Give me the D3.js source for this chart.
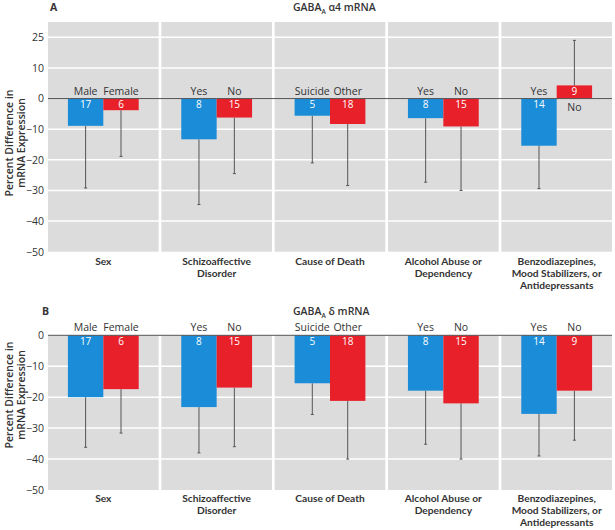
<!DOCTYPE html>
<html><head><meta charset="utf-8">
<script src="https://cdn.jsdelivr.net/npm/d3@7"></script>
<style>
body{margin:0;background:#fff;}
svg text{font-family:"Open Sans","Noto Sans",sans-serif;fill:#333;}
</style></head>
<body><svg id="c" width="615" height="530"></svg>
<script>
const categories = [["Sex"],["Schizoaffective","Disorder"],["Cause of Death"],["Alcohol Abuse or","Dependency"],["Benzodiazepines,","Mood Stabilizers, or","Antidepressants"]];
const groupLabels = [["Male","Female"],["Yes","No"],["Suicide","Other"],["Yes","No"],["Yes","No"]];
const counts = [[17,6],[8,15],[5,18],[8,15],[14,9]];
// Panel A: GABA_A alpha4 mRNA
const valuesA = [[-8.9,-3.8],[-13.3,-6.2],[-5.6,-8.3],[-6.4,-9.1],[-15.4,4.3]];
const errEndA = [[-29.2,-18.9],[-34.6,-24.5],[-21.0,-28.4],[-27.3,-30.0],[-29.4,19.0]];
// Panel B: GABA_A delta mRNA
const valuesB = [[-20.0,-17.4],[-23.2,-16.9],[-15.5,-21.2],[-17.9,-22.0],[-25.4,-17.9]];
const errEndB = [[-36.2,-31.6],[-38.0,-36.0],[-25.6,-40.0],[-35.2,-40.0],[-39.0,-33.9]];
const tickValuesA = [20,10,0,-10,-20,-30,-40,-50];
const tickLabelsA = ["25","10","0","\u221210","\u221220","\u221230","\u221240","\u221250"];
const tickValuesB = [0,-10,-20,-30,-40,-50];
const tickLabelsB = ["0","\u221210","\u221220","\u221230","\u221240","\u221250"];
const colors = ["#1a8cd8","#e8202a"];

const svg = d3.select("#c");
const x = d3.scaleBand().domain(d3.range(categories.length)).range([48,612]).paddingInner(0.024);
const bw = x.bandwidth();
const sub = d3.scaleBand().domain([0,1]).range([bw/2-bw*0.32, bw/2+bw*0.32]);

function panel(opts){
  const {values, errEnd, domain, range, tickValues, tickLabels, letter, letterX, titleY, gene, catY, yTitleY} = opts;
  const y = d3.scaleLinear().domain(domain).range(range);
  const g = svg.append("g");
  g.selectAll("rect.bg").data(categories).join("rect")
    .attr("x",(d,i)=>x(i)).attr("y",y(domain[1])).attr("width",bw)
    .attr("height",y(domain[0])-y(domain[1])).attr("fill","#dcdcdd");
  tickValues.filter(v=>v!==0 && v!==domain[0]).forEach(v=>{
    g.append("line").attr("x1",48).attr("x2",612).attr("y1",y(v)).attr("y2",y(v))
      .attr("stroke","#fff").attr("stroke-width",1.5);
  });
  const ax = d3.axisLeft(y).tickValues(tickValues).tickFormat((d,i)=>tickLabels[i]).tickSize(0).tickPadding(4);
  const axg = g.append("g").attr("transform","translate(48,0)").call(ax);
  axg.select(".domain").remove();
  axg.selectAll("text").attr("font-size",10.5).attr("fill","#333").style("font-family",'"Open Sans",sans-serif');
  categories.forEach((c,i)=>{
    const cg = g.append("g").attr("transform",`translate(${x(i)},0)`);
    [0,1].forEach(j=>{
      const v = values[i][j];
      const bx = sub(j), w = sub.bandwidth();
      const e = errEnd[i][j];
      cg.append("line").attr("x1",bx+w/2).attr("x2",bx+w/2).attr("y1",y(v)).attr("y2",y(e))
        .attr("stroke","#555").attr("stroke-width",1);
      cg.append("line").attr("x1",bx+w/2-1.5).attr("x2",bx+w/2+1.5).attr("y1",y(e)).attr("y2",y(e))
        .attr("stroke","#555").attr("stroke-width",1);
      cg.append("rect").attr("x",bx).attr("y",y(Math.max(0,v))).attr("width",w)
        .attr("height",Math.abs(y(v)-y(0))).attr("fill",colors[j]);
      const cy = v<0 ? y(0)+9.5 : (y(v)+y(0))/2+3.5;
      cg.append("text").attr("x",bx+w/2).attr("y",cy).attr("text-anchor","middle")
        .attr("font-size",10).style("fill","#fff").text(counts[i][j]);
      const ly = v<0 ? y(0)-4 : y(0)+12.5;
      cg.append("text").attr("x",bx+w/2).attr("y",ly).attr("text-anchor","middle")
        .attr("font-size",10.5).text(groupLabels[i][j]);
    });
    const t = cg.append("text").attr("x",bw/2).attr("y",catY).attr("text-anchor","middle")
      .attr("font-size",10.2).attr("font-weight",700).style("font-family","Lato, sans-serif");
    c.forEach((line,k)=>t.append("tspan").attr("x",bw/2).attr("dy",k===0?0:12.2).text(line));
  });
  g.append("line").attr("x1",48).attr("x2",612).attr("y1",y(0)).attr("y2",y(0))
    .attr("stroke","#555").attr("stroke-width",1);
  g.append("text").attr("x",letterX).attr("y",titleY).attr("font-size",10.5).attr("font-weight",700).text(letter);
  const tt = g.append("text").attr("x",293).attr("y",titleY).attr("font-size",10.5).attr("font-weight",600);
  tt.append("tspan").text("GABA");
  tt.append("tspan").attr("font-size",6.5).attr("dy",3).text("A");
  tt.append("tspan").attr("dy",-3).text(" " + gene + " mRNA");
  const yt = g.append("text").attr("transform",`translate(13,${yTitleY}) rotate(-90)`)
    .attr("text-anchor","middle").attr("font-size",10.5).attr("font-weight",600);
  yt.append("tspan").attr("x",0).attr("dy",0).text("Percent Difference in");
  yt.append("tspan").attr("x",0).attr("dy",11.5).text("mRNA Expression");
}

panel({values:valuesA, errEnd:errEndA, domain:[-50,25], range:[251.7,22], tickValues:tickValuesA, tickLabels:tickLabelsA,
  letter:"A", letterX:50, titleY:11, gene:"\u03b14", catY:264.5, yTitleY:143});
panel({values:valuesB, errEnd:errEndB, domain:[-50,0], range:[490,335.3], tickValues:tickValuesB, tickLabels:tickLabelsB,
  letter:"B", letterX:42, titleY:315, gene:"\u03b4", catY:501.5, yTitleY:395});
</script></body></html>
